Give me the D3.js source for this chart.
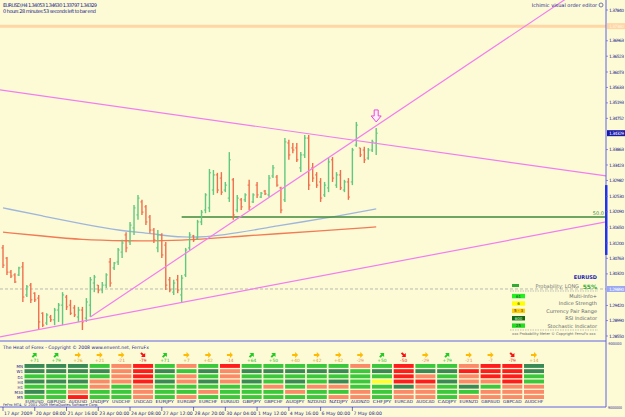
<!DOCTYPE html>
<html>
<head>
<meta charset="utf-8">
<script src="https://cdn.jsdelivr.net/npm/d3@7.9.0/dist/d3.min.js"></script>
<style>
  body { margin: 0; background: #fcfbd6; }
  svg { display: block; font-family: "DejaVu Sans", sans-serif; }
</style>
</head>
<body>
<svg id="chart" width="625" height="417"></svg>
<script>
// ---- price bars (EURUSD H4) ----
const openP = [1.3106,1.3077,1.3037,1.3029,1.3029,1.3052,1.2972,1.3000,1.2977,1.2963,
  1.2920,1.2892,1.2909,1.2901,1.2929,1.2943,1.2966,1.2943,1.2935,1.2909,
  1.2929,1.2906,1.2943,1.3006,1.3000,1.2986,1.3000,1.3066,1.3049,1.3066,
  1.3094,1.3143,1.3123,1.3163,1.3200,1.3237,1.3223,1.3194,1.3157,1.3106,
  1.3143,1.3114,1.3015,1.2980,1.3015,1.2972,1.3029,1.3106,1.3140,1.3134,
  1.3180,1.3214,1.3220,1.3271,1.3314,1.3305,1.3271,1.3248,1.3300,1.3214,
  1.3243,1.3243,1.3285,1.3237,1.3285,1.3251,1.3268,1.3257,1.3311,1.3308,
  1.3277,1.3243,1.3405,1.3391,1.3391,1.3334,1.3371,1.3419,1.3334,1.3314,
  1.3294,1.3257,1.3277,1.3357,1.3285,1.3314,1.3271,1.3294,1.3294,1.3399,
  1.3391,1.3385,1.3362,1.3385,1.3405];
const highP = [1.3114,1.3080,1.3043,1.3034,1.3052,1.3066,1.3000,1.3006,1.2980,1.2972,
  1.2923,1.2920,1.2915,1.2935,1.2949,1.2980,1.2972,1.2958,1.2943,1.2938,
  1.2938,1.2963,1.3023,1.3029,1.3000,1.3009,1.3034,1.3077,1.3066,1.3106,
  1.3129,1.3151,1.3180,1.3228,1.3257,1.3243,1.3228,1.3200,1.3163,1.3157,
  1.3148,1.3123,1.3023,1.3015,1.3029,1.3029,1.3106,1.3151,1.3143,1.3186,
  1.3214,1.3262,1.3331,1.3328,1.3320,1.3322,1.3294,1.3379,1.3305,1.3257,
  1.3248,1.3262,1.3300,1.3262,1.3294,1.3265,1.3271,1.3314,1.3342,1.3314,
  1.3280,1.3419,1.3414,1.3405,1.3405,1.3379,1.3428,1.3428,1.3348,1.3322,
  1.3305,1.3294,1.3362,1.3365,1.3322,1.3328,1.3300,1.3305,1.3391,1.3465,
  1.3391,1.3394,1.3391,1.3414,1.3448];
const lowP = [1.3049,1.3029,1.3020,1.3006,1.3026,1.2952,1.2966,1.2949,1.2952,1.2872,
  1.2881,1.2886,1.2895,1.2886,1.2895,1.2886,1.2929,1.2915,1.2909,1.2895,
  1.2872,1.2895,1.2909,1.2980,1.2977,1.2977,1.2992,1.2995,1.3043,1.3057,
  1.3077,1.3094,1.3114,1.3143,1.3186,1.3200,1.3171,1.3148,1.3120,1.3094,
  1.3077,1.2986,1.2980,1.2972,1.2977,1.2952,1.3023,1.3100,1.3123,1.3129,
  1.3171,1.3205,1.3208,1.3257,1.3262,1.3257,1.3265,1.3237,1.3186,1.3208,
  1.3214,1.3237,1.3214,1.3234,1.3248,1.3248,1.3257,1.3251,1.3305,1.3280,
  1.3205,1.3237,1.3357,1.3376,1.3351,1.3322,1.3362,1.3271,1.3294,1.3277,
  1.3237,1.3251,1.3265,1.3294,1.3277,1.3271,1.3265,1.3243,1.3285,1.3394,
  1.3365,1.3348,1.3357,1.3379,1.3371];
const closeP = [1.3057,1.3037,1.3026,1.3009,1.3049,1.2966,1.2995,1.2958,1.2958,1.2895,
  1.2886,1.2915,1.2901,1.2929,1.2943,1.2972,1.2938,1.2920,1.2915,1.2929,
  1.2895,1.2952,1.3015,1.3023,1.2986,1.3000,1.3029,1.3006,1.3063,1.3100,
  1.3120,1.3106,1.3171,1.3220,1.3248,1.3208,1.3180,1.3157,1.3129,1.3143,
  1.3086,1.3000,1.2986,1.3006,1.2986,1.3020,1.3100,1.3143,1.3129,1.3180,
  1.3208,1.3257,1.3320,1.3314,1.3271,1.3265,1.3285,1.3357,1.3200,1.3248,
  1.3223,1.3257,1.3223,1.3257,1.3257,1.3262,1.3260,1.3305,1.3334,1.3285,
  1.3214,1.3408,1.3371,1.3385,1.3357,1.3371,1.3419,1.3285,1.3305,1.3285,
  1.3248,1.3285,1.3351,1.3305,1.3314,1.3277,1.3294,1.3251,1.3385,1.3456,
  1.3371,1.3357,1.3385,1.3408,1.3433];

// moving averages [bar index, price]
const maFast = [[0,1.3220],[10,1.3197],[20,1.3174],[30,1.3154],[37,1.3148],[45,1.3134],[55,1.3140],[70,1.3171],[80,1.3188],[94,1.3217]];
const maSlow = [[0,1.3151],[10,1.3140],[20,1.3129],[30,1.3126],[45,1.3126],[60,1.3140],[80,1.3154],[94,1.3166]];

// drawn objects: trend lines as two anchors [bar, price]
const trendLines = [
  { a: [0, 1.3555], b: [94, 1.3404], left: true },
  { a: [22, 1.2909], b: [94, 1.3454], left: false },
  { a: [0, 1.2854], b: [94, 1.3056], left: true }
];
const fiboLevel = { from: 45, price: 1.3194, label: "50.0" };
const orderLine = 1.3738;
const dashedLine = 1.2989;
const arrowMark = { bar: 94, price: 1.3465 };
const axisBand = [1.3285, 1.3086];

// axes
const priceTicks = [1.37840,1.36963,1.36523,1.36073,1.35633,1.35193,1.34752,1.33863,1.33423,1.32982,
  1.32530,1.32090,1.31650,1.31200,1.30763,1.30320,1.29420,1.28990,1.28550];
const timeLabels = ["17 Apr 2009","20 Apr 08:00","21 Apr 16:00","23 Apr 00:00","24 Apr 08:00","27 Apr 12:00",
  "28 Apr 20:00","30 Apr 04:00","1 May 12:00","4 May 16:00","6 May 00:00","7 May 08:00"];

// heat of forex panel
const pairs = ["EURUSD","GBPUSD","AUDUSD","USDJPY","USDCHF","USDCAD","EURJPY","EURGBP","EURCHF","EURAUD",
  "GBPJPY","GBPCHF","AUDJPY","NZDUSD","NZDJPY","AUDNZD","CHFJPY","EURCAD","AUDCAD","CADJPY",
  "EURNZD","GBPAUD","GBPCAD","AUDCHF"];
const strength = [71,79,26,21,-21,-79,71,7,42,-14,64,50,40,42,42,-29,50,-50,-29,79,-21,-7,-79,14];
const timeframes = ["MN","W1","D1","H4","H1","M30","M5"];
const heat = ["DDGDGDG","DDGDGGG","DDGDGSR","GDGSSGG","SSSSGGG","RRRRSSS","GDGDGGG","SGSSGGS",
  "GDGDGSG","RSSSGGG","GDGDGGG","GDGGSGG","GDGDGSG","GDGGSGG","GDGDSGS","SGGGGSS",
  "GDGYGGG","RRRRDSS","GDSRSSS","GDGDGGG","SRSSDGS","RRRSGSS","RRRRSSS","DDGGSSS"];

// probability meter
const probNames = ["Multi-Info+","Indice Strength","Currency Pair Range","RSI Indicator","Stochastic Indicator"];
const probValues = ["61","6","5 - 3","600","25"];
const probColors = ["#22ee22","#ffff00","#ffcc00","#116611","#22dd22"];

// ---------------------------------------------------------------
const svg = d3.select("#chart");
const W = 625, H = 417;
const axisX = 606, mainBottom = 341, subBottom = 407;
const navy = "#1c1c8c", frame = "#6060e8", pink = "#f47cf0";

svg.append("rect").attr("width", W).attr("height", H).attr("fill", "#fcfbd6");

const x = d3.scaleLinear().domain([0, 94]).range([3, 376.2]);
const y = d3.scaleLinear().domain([1.3784, 1.2855]).range([10, 336]);

svg.append("clipPath").attr("id", "plot")
  .append("rect").attr("x", 0).attr("y", 0).attr("width", axisX).attr("height", mainBottom);
const plot = svg.append("g").attr("clip-path", "url(#plot)");

// order line (orange) and dashed line
plot.append("line").attr("x1", 0).attr("x2", axisX)
  .attr("y1", y(orderLine)).attr("y2", y(orderLine))
  .attr("stroke", "#ffd6a4").attr("stroke-width", 3);
plot.append("line").attr("x1", 0).attr("x2", axisX)
  .attr("y1", y(dashedLine)).attr("y2", y(dashedLine))
  .attr("stroke", "#a8a8a0").attr("stroke-width", 0.8).attr("stroke-dasharray", "3,2");

// moving averages
const maLine = d3.line().x(d => x(d[0])).y(d => y(d[1])).curve(d3.curveBasis);
plot.append("path").attr("d", maLine(maSlow)).attr("fill", "none")
  .attr("stroke", "#f27a55").attr("stroke-width", 1.3);
plot.append("path").attr("d", maLine(maFast)).attr("fill", "none")
  .attr("stroke", "#9fb6dc").attr("stroke-width", 1.3);

// fibo 50 level
plot.append("line").attr("x1", x(fiboLevel.from)).attr("x2", axisX)
  .attr("y1", y(fiboLevel.price)).attr("y2", y(fiboLevel.price))
  .attr("stroke", "#3f8a3a").attr("stroke-width", 1.6);
plot.append("text").attr("x", axisX - 2).attr("y", y(fiboLevel.price) - 2)
  .attr("text-anchor", "end").attr("font-size", 5).attr("fill", "#3f8a3a")
  .text(fiboLevel.label);

// bars
const bars = openP.map((o, i) => ({ i, o, h: highP[i], l: lowP[i], c: closeP[i] }));
const barColor = d => d.c >= d.o ? "#62c77f" : "#ef6f4c";
const bg = plot.append("g").attr("stroke-width", 1.4);
bg.selectAll(".hl").data(bars).join("line")
  .attr("x1", d => x(d.i)).attr("x2", d => x(d.i))
  .attr("y1", d => y(d.h)).attr("y2", d => y(d.l))
  .attr("stroke", barColor);
bg.selectAll(".op").data(bars).join("line")
  .attr("x1", d => x(d.i) - 1.6).attr("x2", d => x(d.i))
  .attr("y1", d => y(d.o)).attr("y2", d => y(d.o))
  .attr("stroke", barColor).attr("stroke-width", 1);
bg.selectAll(".cl").data(bars).join("line")
  .attr("x1", d => x(d.i)).attr("x2", d => x(d.i) + 1.6)
  .attr("y1", d => y(d.c)).attr("y2", d => y(d.c))
  .attr("stroke", barColor).attr("stroke-width", 1);

// trend lines, extended as rays
trendLines.forEach(t => {
  const x1 = x(t.a[0]), y1 = y(t.a[1]), x2 = x(t.b[0]), y2 = y(t.b[1]);
  const k = (y2 - y1) / (x2 - x1);
  const xs = t.left ? -5 : x1, xe = axisX;
  plot.append("line")
    .attr("x1", xs).attr("y1", y1 + k * (xs - x1))
    .attr("x2", xe).attr("y2", y1 + k * (xe - x1))
    .attr("stroke", pink).attr("stroke-width", 1.2);
});

// down arrow mark
{
  const ax = x(arrowMark.bar), ay = y(arrowMark.price);
  plot.append("path")
    .attr("d", `M${ax - 2},${ay - 12} h4 v6 h3 l-5,6 l-5,-6 h3 z`)
    .attr("fill", "#fdf0fb").attr("stroke", "#ee44dd").attr("stroke-width", 1);
}

// header
svg.append("text").attr("x", 3).attr("y", 6.5).attr("font-size", 5).attr("fill", navy)
  .attr("textLength", 94).text("EURUSD,H4  1.34053 1.34630 1.33797 1.34329");
svg.append("text").attr("x", 3).attr("y", 12.5).attr("font-size", 5).attr("fill", navy)
  .attr("textLength", 93).text("0 hours 28 minutes 53 seconds left to bar end");
svg.append("text").attr("x", 597).attr("y", 7).attr("font-size", 5).attr("fill", navy)
  .attr("text-anchor", "end").text("Ichimic visual order editor");
svg.append("circle").attr("cx", 601).attr("cy", 5).attr("r", 2)
  .attr("fill", "none").attr("stroke", "#5555aa").attr("stroke-width", 0.8);

// probability meter
{
  const pm = svg.append("g");
  pm.append("text").attr("x", 597).attr("y", 279).attr("text-anchor", "end")
    .attr("font-size", 5).attr("font-weight", "bold").attr("fill", "#1a1ab0").text("EURUSD");
  pm.append("rect").attr("x", 512).attr("y", 284).attr("width", 7).attr("height", 3).attr("fill", "#33aa33");
  pm.append("text").attr("x", 579).attr("y", 288).attr("text-anchor", "end")
    .attr("font-size", 5).attr("fill", "#777").text("Probability:  LONG");
  pm.append("text").attr("x", 597).attr("y", 288.5).attr("text-anchor", "end")
    .attr("font-size", 6).attr("font-weight", "bold").attr("fill", "#33aa33").text("55%");
  [291, 330].forEach(yy => pm.append("line").attr("x1", 510).attr("x2", 598)
    .attr("y1", yy).attr("y2", yy).attr("stroke", "#999").attr("stroke-width", 0.6)
    .attr("stroke-dasharray", "1.5,1"));
  const rowY = d3.scalePoint().domain(probNames).range([296.5, 326]);
  probNames.forEach((n, k) => {
    pm.append("rect").attr("x", 512).attr("y", rowY(n) - 2.6).attr("width", 13).attr("height", 4.4)
      .attr("fill", probColors[k]);
    pm.append("text").attr("x", 518.5).attr("y", rowY(n) + 1.2).attr("text-anchor", "middle")
      .attr("font-size", 4).attr("fill", k === 3 ? "#ccffcc" : "#333").text(probValues[k]);
    pm.append("text").attr("x", 597).attr("y", rowY(n) + 1.5).attr("text-anchor", "end")
      .attr("font-size", 5).attr("fill", "#666").text(n);
  });
  pm.append("text").attr("x", 512).attr("y", 335).attr("font-size", 3.6).attr("fill", "#666")
    .text("xxx Probability Meter © Copyright FerruFx xxx");
}

// price axis
svg.append("line").attr("x1", axisX).attr("x2", axisX).attr("y1", 0).attr("y2", subBottom)
  .attr("stroke", frame).attr("stroke-width", 1);
svg.append("rect").attr("x", axisX - 1).attr("width", 2.5)
  .attr("y", y(axisBand[0])).attr("height", y(axisBand[1]) - y(axisBand[0])).attr("fill", "#2233ee");
const pt = svg.append("g");
pt.selectAll("line").data(priceTicks).join("line")
  .attr("x1", axisX).attr("x2", axisX + 2).attr("y1", d => y(d)).attr("y2", d => y(d))
  .attr("stroke", frame).attr("stroke-width", 0.7);
pt.selectAll("text").data(priceTicks).join("text")
  .attr("x", axisX + 3).attr("y", d => y(d) + 1.6).attr("font-size", 4.4).attr("fill", navy)
  .attr("textLength", 15).text(d => d.toFixed(5));

function axisTag(price, txt, bgc, fg) {
  svg.append("rect").attr("x", axisX + 1).attr("y", y(price) - 3).attr("width", 18).attr("height", 6).attr("fill", bgc);
  svg.append("text").attr("x", axisX + 3).attr("y", y(price) + 1.6).attr("font-size", 4.4)
    .attr("fill", fg).attr("textLength", 15).text(txt);
}
axisTag(orderLine, "1.37380", "#ffd6a4", "#fff4e0");
axisTag(closeP[closeP.length - 1], "1.34329", "#1a1aa8", "#ffffff");
axisTag(dashedLine, "1.29890", "#9aa8f4", "#ffffff");

// sub-window frame
svg.append("line").attr("x1", 0).attr("x2", axisX).attr("y1", mainBottom).attr("y2", mainBottom)
  .attr("stroke", frame).attr("stroke-width", 1);
svg.append("line").attr("x1", 0).attr("x2", axisX).attr("y1", subBottom).attr("y2", subBottom)
  .attr("stroke", frame).attr("stroke-width", 1);
svg.append("text").attr("x", axisX + 1.5).attr("y", mainBottom + 4).attr("font-size", 3.8).attr("fill", navy)
  .attr("textLength", 14).attr("lengthAdjust", "spacingAndGlyphs").text("-9000000");
svg.append("text").attr("x", axisX + 2).attr("y", subBottom + 1.5).attr("font-size", 3.8).attr("fill", navy)
  .attr("textLength", 14).attr("lengthAdjust", "spacingAndGlyphs").text("9000000");

// heat of forex
{
  const hf = svg.append("g");
  hf.append("text").attr("x", 3).attr("y", 348.5).attr("font-size", 4.6).attr("fill", navy)
    .text("The Heat of Forex - Copyright © 2008 www.envent.net, FerruFx");
  const cx = d3.scaleBand().domain(pairs).range([24.5, 544]).paddingInner(0.08);
  const ry = d3.scaleBand().domain(timeframes).range([364, 399]).paddingInner(0.25);
  const cellFill = { D: "#3a8a56", G: "#3cc83c", S: "#fa8a68", R: "#ff1c1c", Y: "#ffff30" };
  timeframes.forEach(tf => hf.append("text").attr("x", 23).attr("y", ry(tf) + ry.bandwidth() + 0.3)
    .attr("text-anchor", "end").attr("font-size", 4).attr("fill", navy).text(tf));
  pairs.forEach((p, k) => {
    timeframes.forEach((tf, r) => {
      hf.append("rect").attr("x", cx(p)).attr("y", ry(tf)).attr("width", cx.bandwidth())
        .attr("height", ry.bandwidth()).attr("fill", cellFill[heat[k][r]]);
    });
    const v = strength[k];
    const col = v >= 50 ? "#22cc22" : v <= -50 ? "#ff1010" : "#ffbb00";
    const rot = v >= 50 ? -45 : v <= -50 ? 45 : 0;
    const mx = cx(p) + cx.bandwidth() / 2;
    hf.append("path").attr("d", "M-3,-1 H0 V-3 L3,0 L0,3 V1 H-3 Z")
      .attr("transform", `translate(${mx},355) rotate(${rot})`).attr("fill", col);
    hf.append("text").attr("x", mx).attr("y", 362).attr("text-anchor", "middle").attr("font-size", 4.4)
      .attr("fill", v >= 50 ? "#22bb22" : v <= -50 ? "#ee2020" : (v >= 0 ? "#d4a020" : "#e8804a"))
      .text((v > 0 ? "+" : "") + v);
    hf.append("text").attr("x", mx).attr("y", 403.2).attr("text-anchor", "middle").attr("font-size", 4.2)
      .attr("textLength", 18.5).attr("lengthAdjust", "spacingAndGlyphs")
      .attr("fill", navy).text(p);
  });
  hf.append("text").attr("x", 3).attr("y", 406.3).attr("font-size", 3.6).attr("fill", navy)
    .text("FeFro MT4, © 2001-2009 MetaQuotes Software Corp.");
}

// time axis
const tl = svg.append("g");
timeLabels.forEach((t, k) => {
  const xx = x(k * 8);
  tl.append("line").attr("x1", xx).attr("x2", xx).attr("y1", subBottom).attr("y2", subBottom + 4)
    .attr("stroke", navy).attr("stroke-width", 0.6);
  tl.append("text").attr("x", xx + 1).attr("y", 414.5).attr("font-size", 4.6).attr("fill", navy).text(t);
});
</script>
</body>
</html>
